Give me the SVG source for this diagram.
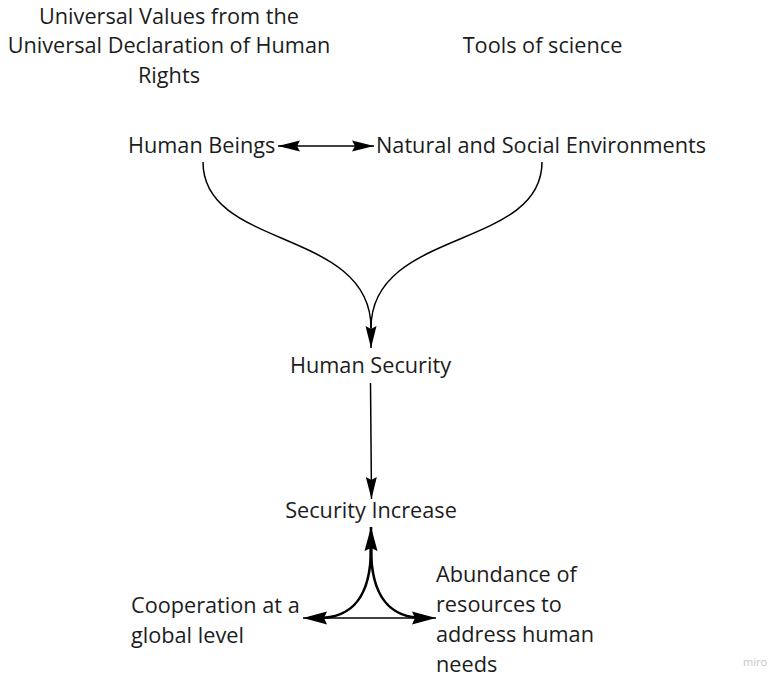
<svg xmlns="http://www.w3.org/2000/svg" width="770" height="680" viewBox="0 0 770 680">
  <style>
    .lbl { font-family: "Open Sans", "Noto Sans", "Liberation Sans", sans-serif; font-size: 21.7px; fill: #1c1c1c; }
    .mid { text-anchor: middle; }
    .edge { fill: none; stroke: #000; stroke-width: 1.5; }
    .thick { stroke-width: 2.6; }
    .wm { font-family: "Open Sans", "Liberation Sans", sans-serif; font-size: 11px; fill: #c4c4c4; }
  </style>
  <defs>
    <marker id="arrow" markerUnits="userSpaceOnUse" markerWidth="24" markerHeight="12" refX="22" refY="6" orient="auto-start-reverse">
      <path d="M0,0.5 L22,6 L0,11.5 L3,6 Z" fill="#000"/>
    </marker>
    <marker id="arrowBig" markerUnits="userSpaceOnUse" markerWidth="26" markerHeight="14" refX="24" refY="7" orient="auto-start-reverse">
      <path d="M0,0.5 L24,7 L0,13.5 L3,7 Z" fill="#000"/>
    </marker>
  </defs>

  <rect width="770" height="680" fill="#fff"/>

  <g id="connectors">
    <!-- Human Beings <-> Natural and Social Environments -->
    <path class="edge" d="M278,146 L374,146" marker-start="url(#arrow)" marker-end="url(#arrow)"/>
    <!-- both sources merge into Human Security -->
    <path class="edge" d="M203,162 C203,250 371,228 371,328" />
    <path class="edge" d="M542,162 C542,250 371,228 371,328" />
    <path class="edge" d="M371,326 L371,348" marker-end="url(#arrow)"/>
    <!-- Human Security -> Security Increase -->
    <path class="edge" d="M370.5,383 L371.5,499" marker-end="url(#arrow)"/>
    <!-- Cooperation / Abundance -> Security Increase -->
    <path class="edge thick" d="M371,560 L371,527" marker-end="url(#arrowBig)"/>
    <path class="edge thick" d="M371,548 C371,600 350,618 318,618"/>
    <path class="edge thick" d="M371,548 C371,600 392,618 424,618"/>
    <path class="edge" d="M303,618 L436,618" marker-start="url(#arrowBig)" marker-end="url(#arrowBig)"/>
  </g>

  <g id="universal-values">
    <text class="lbl mid" x="169" y="23.5">Universal Values from the</text>
    <text class="lbl mid" x="169" y="53">Universal Declaration of Human</text>
    <text class="lbl mid" x="169" y="82.5">Rights</text>
  </g>
  <g id="tools-of-science">
    <text class="lbl mid" x="542.5" y="53">Tools of science</text>
  </g>
  <g id="human-beings">
    <text class="lbl" x="128" y="153">Human Beings</text>
  </g>
  <g id="environments">
    <text class="lbl" x="376" y="153">Natural and Social Environments</text>
  </g>
  <g id="human-security">
    <text class="lbl mid" x="370.5" y="373">Human Security</text>
  </g>
  <g id="security-increase">
    <text class="lbl mid" x="371" y="518">Security Increase</text>
  </g>
  <g id="cooperation">
    <text class="lbl" x="131" y="613">Cooperation at a</text>
    <text class="lbl" x="131" y="643">global level</text>
  </g>
  <g id="abundance">
    <text class="lbl" x="436" y="582">Abundance of</text>
    <text class="lbl" x="436" y="612">resources to</text>
    <text class="lbl" x="436" y="642">address human</text>
    <text class="lbl" x="436" y="672">needs</text>
  </g>

  <text class="wm" x="743" y="666">miro</text>
</svg>
